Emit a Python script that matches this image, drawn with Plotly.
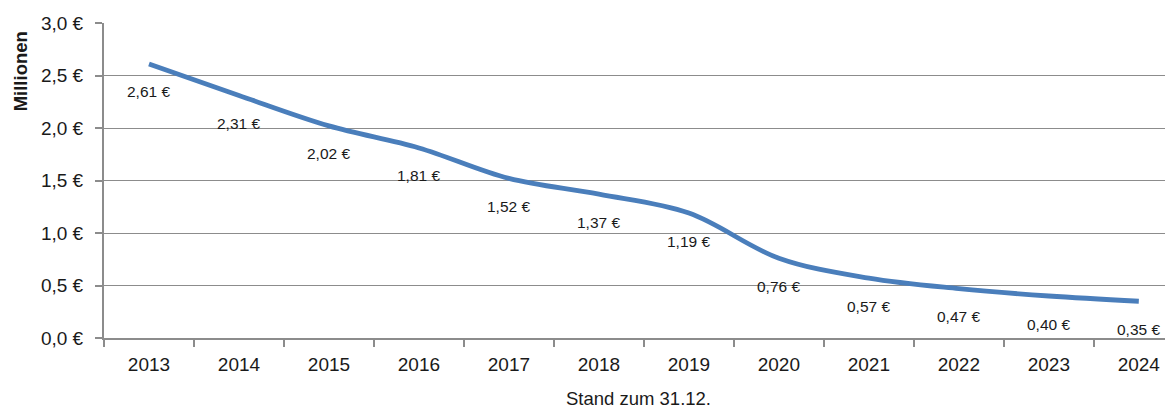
import plotly.graph_objects as go

EURO = "\u20ac"

# Stand zum 31.12., Werte in Millionen Euro
jahre = ["2013", "2014", "2015", "2016", "2017", "2018",
         "2019", "2020", "2021", "2022", "2023", "2024"]
werte = [2.61, 2.31, 2.02, 1.81, 1.52, 1.37, 1.19, 0.76, 0.57, 0.47, 0.40, 0.35]
y_ticks = [0.0, 0.5, 1.0, 1.5, 2.0, 2.5, 3.0]
y_labels = [f"{v:.1f}".replace(".", ",") + " " + EURO for v in y_ticks]
beschriftung = [f"{w:.2f}".replace(".", ",") + " " + EURO for w in werte]

FONT = "Liberation Sans, Arial, sans-serif"
GRAU = "#8c8c8c"
SCHWARZ = "#1a1a1a"

# der Browser setzt 8px Rand um die Seite
RAND = 8

fig = go.Figure()
fig.add_trace(go.Scatter(
    x=jahre, y=werte, mode="lines",
    line=dict(color="#4a7ebb", width=4.8, shape="spline", smoothing=1.0),
    hoverinfo="skip", showlegend=False))

# Datenbeschriftungen unterhalb der Linie (x als Kategorie-Index)
for i, (w, t) in enumerate(zip(werte, beschriftung)):
    fig.add_annotation(
        x=i, y=w, xref="x", yref="y",
        text=t,
        showarrow=False, yshift=-28, xanchor="center", yanchor="middle",
        font=dict(family=FONT, size=15.5, color=SCHWARZ))

# y-Achsentitel oben links
fig.add_annotation(
    x=0, y=0.845, xref="paper", yref="paper", xshift=-83.5,
    text="<b>Millionen</b>", textangle=-90, showarrow=False,
    xanchor="center", yanchor="middle",
    font=dict(family=FONT, size=18.5, color=SCHWARZ))

fig.update_xaxes(
    type="category", range=[-0.5, 11.38], automargin=False,
    tickson="boundaries", ticks="outside", ticklen=7, tickcolor=GRAU, tickwidth=1.5,
    ticklabelstandoff=8,
    showline=True, linecolor=GRAU, linewidth=2,
    showgrid=False, zeroline=False,
    tickfont=dict(family=FONT, size=19, color=SCHWARZ),
    title=dict(text="Stand zum 31.12.", standoff=18,
               font=dict(family=FONT, size=18.5, color=SCHWARZ)))

fig.update_yaxes(
    range=[0, 3.0], tickvals=y_ticks, ticktext=y_labels, automargin=False,
    ticks="outside", ticklen=7, tickcolor=GRAU, tickwidth=1.5,
    ticklabelstandoff=8,
    showline=True, linecolor=GRAU, linewidth=2,
    showgrid=True, gridcolor=GRAU, gridwidth=1.3, zeroline=False,
    tickfont=dict(family=FONT, size=19, color=SCHWARZ))

fig.update_layout(
    width=1173 - RAND, height=412 - RAND,
    margin=dict(l=104 - RAND, r=0, t=23 - RAND, b=74),
    plot_bgcolor="white", paper_bgcolor="white",
    font=dict(family=FONT, color=SCHWARZ))

fig.write_html("out.html")
